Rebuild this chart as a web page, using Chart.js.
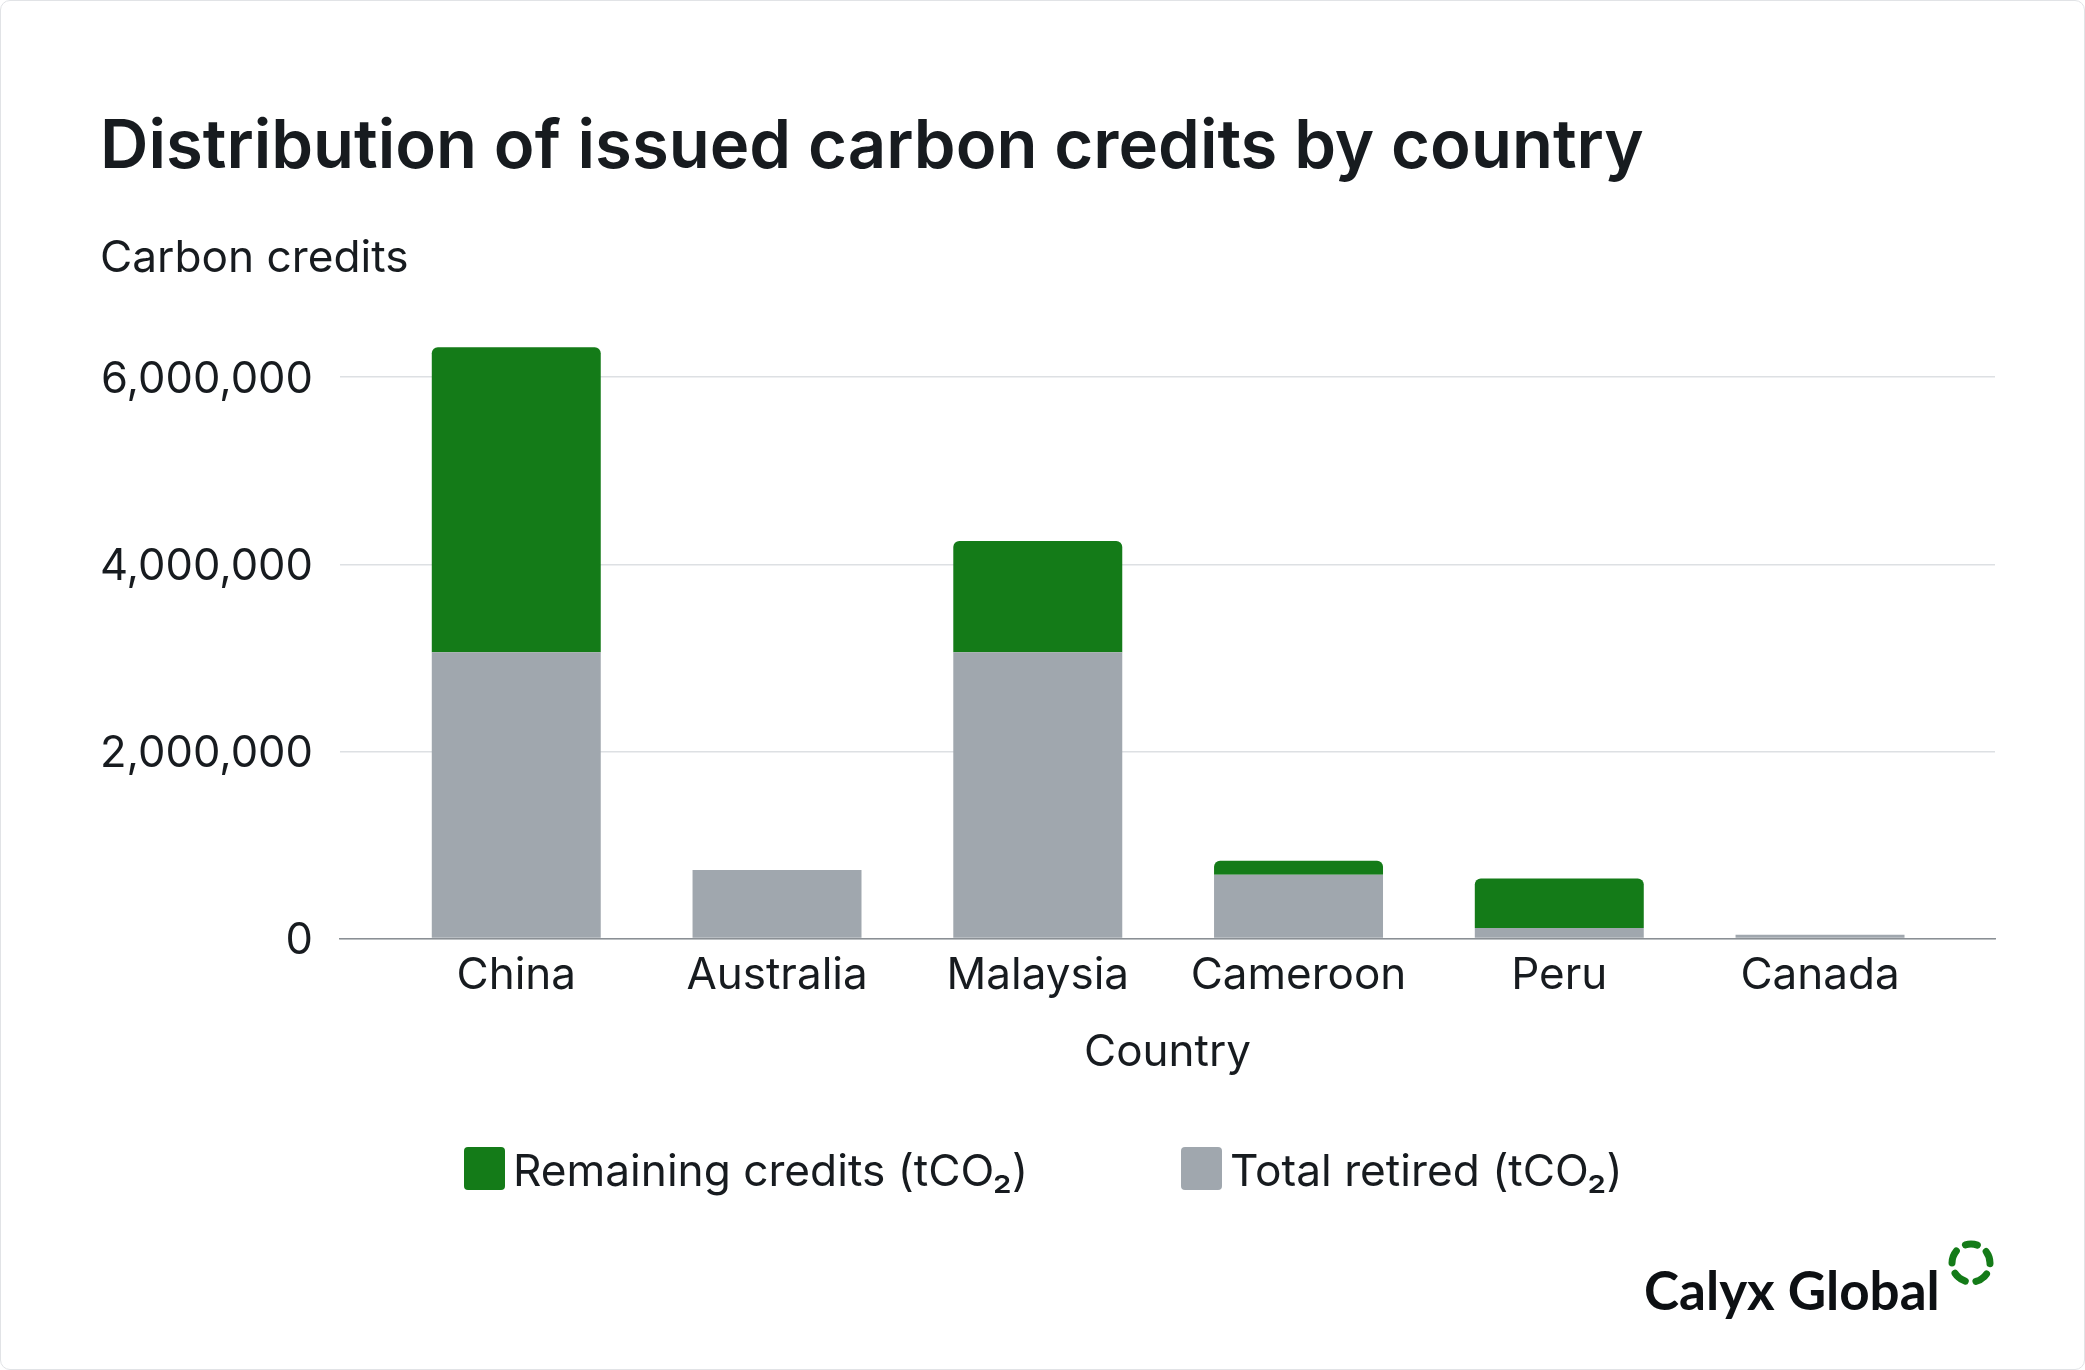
<!DOCTYPE html>
<html lang="en">
<head>
<meta charset="UTF-8" />
<title>Distribution of issued carbon credits by country</title>
<style>
  html,body{margin:0;padding:0;background:#fff}
  #card{position:relative;width:2083px;height:1368px;border:1px solid #e1e3e6;border-radius:10px;overflow:hidden;font-family:Inter,sans-serif;color:#171b1f}
  #chart{position:absolute;left:0;top:0}
  #legend{position:absolute;left:0;top:0;width:100%;height:100%;pointer-events:none}
  .item{position:absolute;top:1146px;display:flex;align-items:center;font-size:44.2px;line-height:43px;white-space:nowrap}
  .item i{display:block;width:41px;height:43px;border-radius:4px;margin-right:8px}
  .item span{position:relative;top:2px}
  #logo{position:absolute;left:1643px;top:1258px;font:700 53px Lato,sans-serif;color:#0d1013;line-height:62px}
  #ring{position:absolute;left:1945px;top:1237px}
</style>
<script src="https://cdn.jsdelivr.net/npm/chart.js"></script>
</head>
<body>
<div id="card">
  <canvas id="chart" width="2083" height="1368"></canvas>
  <div id="legend"></div>
  <div id="logo">Calyx Global</div>
  <svg id="ring" width="50" height="50" viewBox="0 0 50 50"><circle cx="25" cy="25" r="19" fill="none" stroke="#147b18" stroke-width="7" stroke-linecap="round" stroke-dasharray="13 10.88" stroke-dashoffset="6.5" transform="rotate(-90 25 25)"/></svg>
</div>
<script>
const countries=['China','Australia','Malaysia','Cameroon','Peru','Canada'];
const remaining=[3260000,0,1190000,150000,530000,0];
const retired=[3060000,730000,3060000,680000,110000,40000];
const yTicks=[0,2000000,4000000,6000000];
const seriesNames=['Remaining credits (tCO₂)','Total retired (tCO₂)'];
const green='#147b18', grey='#a0a7ae', ink='#171b1f';

const asPoints=arr=>arr.map((v,i)=>({x:i,y:v}));
// the axis runs a bit past the outer categories, so x is linear rather than category
const chart=new Chart(document.getElementById('chart'),{
  type:'bar',
  data:{datasets:[
    {label:seriesNames[1],data:asPoints(retired),backgroundColor:grey},
    {label:seriesNames[0],data:asPoints(remaining),backgroundColor:green,borderRadius:{topLeft:6,topRight:6},borderSkipped:false}
  ]},
  options:{
    responsive:false,animation:false,
    devicePixelRatio:1,
    layout:{padding:{left:99,right:89,top:0,bottom:0}},
    categoryPercentage:1,barPercentage:.648,
    plugins:{
      legend:{display:false},tooltip:{enabled:false},
      title:{display:true,text:'Distribution of issued carbon credits by country',align:'start',color:ink,
        font:{family:'Inter',size:67,weight:'600'},padding:{top:107,bottom:44}},
      subtitle:{display:true,text:'Carbon credits',align:'start',color:ink,
        font:{family:'Inter',size:44.2,weight:'400'},padding:{top:0,bottom:45}}
    },
    scales:{
      x:{type:'linear',stacked:true,offset:false,min:-.676,max:5.671,
        grid:{display:false,drawTicks:false},
        border:{color:'#8a8f94',width:1.5},
        afterBuildTicks:s=>{s.ticks=countries.map((c,i)=>({value:i}))},
        ticks:{callback:v=>countries[v],maxRotation:0,autoSkip:false,color:ink,font:{family:'Inter',size:44},padding:11},
        title:{display:true,text:'Country',color:ink,font:{family:'Inter',size:44},padding:{top:13,bottom:290}}
      },
      y:{stacked:true,min:0,max:6500000,
        afterFit:s=>{s.width=240},
        afterBuildTicks:s=>{s.ticks=yTicks.map(v=>({value:v}))},
        grid:{color:'#dde0e3',lineWidth:1.5,drawTicks:false},
        border:{display:false},
        ticks:{callback:v=>v.toLocaleString('en-US'),color:ink,font:{family:'Inter',size:43.5},padding:27,labelOffset:3}
      }
    }
  }
});

// html legend, text sits closer to the swatch than the built-in one allows
const legendX=[463,1180];
[[seriesNames[0],green],[seriesNames[1],grey]].forEach(([name,col],i)=>{
  const el=document.createElement('div');
  el.className='item';el.style.left=legendX[i]+'px';
  el.innerHTML=`<i style="background:${col}"></i><span>${name}</span>`;
  document.getElementById('legend').appendChild(el);
});
</script>
</body>
</html>
